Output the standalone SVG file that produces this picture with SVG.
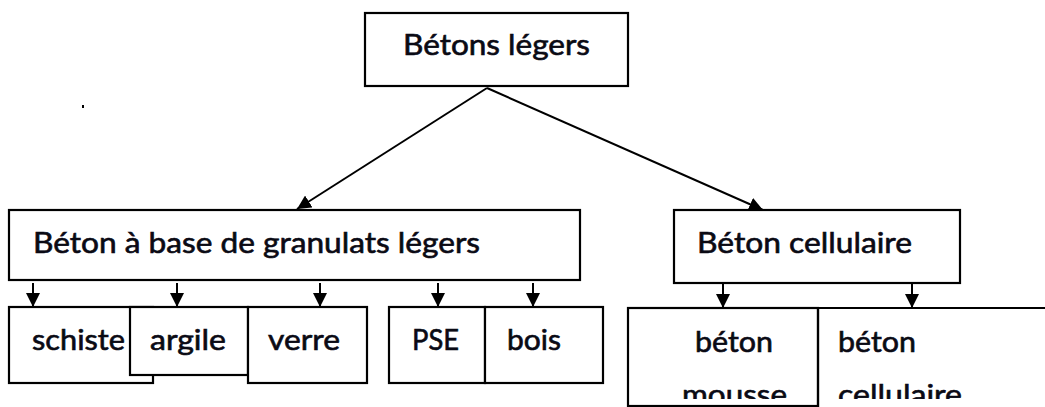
<svg xmlns="http://www.w3.org/2000/svg" width="1045" height="407" viewBox="0 0 1045 407">
<defs>
<style>
.box{fill:#fff;stroke:#000;stroke-width:2.2}
.ln{fill:none;stroke:#000;stroke-width:2.2}
.t{font-family:Lato,"Open Sans",sans-serif;font-size:28px;fill:#0a0a14;stroke:#0a0a14;stroke-width:0.6}
.edge{fill:none;stroke:#000;stroke-width:2}
</style>
<marker id="ah" viewBox="0 0 10 10" refX="10" refY="5" markerWidth="7" markerHeight="7" markerUnits="strokeWidth" orient="auto">
<path d="M0,0 L10,5 L0,10 z" fill="#000"/>
</marker>
<clipPath id="cl"><rect x="620" y="300" width="425" height="99"/></clipPath>
</defs>
<rect width="1045" height="407" fill="#fff"/>
<rect x="82" y="105" width="2" height="3" fill="#000"/>

<g id="n-top">
<rect class="box" x="365" y="13" width="263" height="73"/>
<text class="t" x="403" y="55" textLength="187" lengthAdjust="spacingAndGlyphs">Bétons légers</text>
</g>
<g id="n-granulats">
<rect class="box" x="9" y="210" width="571" height="70"/>
<text class="t" x="33" y="253" textLength="447" lengthAdjust="spacingAndGlyphs">Béton à base de granulats légers</text>
</g>
<g id="n-cellulaire">
<rect class="box" x="674" y="210" width="286" height="73"/>
<text class="t" x="697" y="253" textLength="215" lengthAdjust="spacingAndGlyphs">Béton cellulaire</text>
</g>
<g id="n-schiste">
<rect class="box" x="9" y="307" width="144" height="76"/>
<text class="t" x="32" y="350" textLength="93" lengthAdjust="spacingAndGlyphs">schiste</text>
</g>
<g id="n-argile">
<rect class="box" x="130" y="307" width="118" height="68"/>
<text class="t" x="150" y="350" textLength="76" lengthAdjust="spacingAndGlyphs">argile</text>
</g>
<g id="n-verre">
<rect class="box" x="248" y="307" width="119" height="76"/>
<text class="t" x="268" y="350" textLength="72" lengthAdjust="spacingAndGlyphs">verre</text>
</g>
<g id="n-pse">
<rect class="box" x="389" y="307" width="96" height="76"/>
<text class="t" x="412" y="350" textLength="47" lengthAdjust="spacingAndGlyphs">PSE</text>
</g>
<g id="n-bois">
<rect class="box" x="485" y="307" width="118" height="76"/>
<text class="t" x="507" y="350" textLength="54" lengthAdjust="spacingAndGlyphs">bois</text>
</g>
<g id="n-mousse">
<rect class="box" x="628" y="308" width="190" height="98"/>
<g clip-path="url(#cl)">
<text class="t" x="695" y="352" textLength="78" lengthAdjust="spacingAndGlyphs">béton</text>
<text class="t" x="682" y="405" textLength="105" lengthAdjust="spacingAndGlyphs">mousse</text>
</g>
</g>
<g id="n-cellulaire2">
<path class="ln" d="M818,308 H1045 M818,308 V407"/>
<g clip-path="url(#cl)">
<text class="t" x="838" y="352" textLength="78" lengthAdjust="spacingAndGlyphs">béton</text>
<text class="t" x="838" y="405" textLength="124" lengthAdjust="spacingAndGlyphs">cellulaire</text>
</g>
</g>

<g id="connectors">
<path class="edge" d="M487,88 L297,209" marker-end="url(#ah)"/>
<path class="edge" d="M487,88 L763,210" marker-end="url(#ah)"/>
<path class="edge" d="M33,283 V307" marker-end="url(#ah)"/>
<path class="edge" d="M177,283 V307" marker-end="url(#ah)"/>
<path class="edge" d="M320,283 V307" marker-end="url(#ah)"/>
<path class="edge" d="M438,283 V307" marker-end="url(#ah)"/>
<path class="edge" d="M533,283 V307" marker-end="url(#ah)"/>
<path class="edge" d="M723,284 V308" marker-end="url(#ah)"/>
<path class="edge" d="M912,284 V308" marker-end="url(#ah)"/>
</g>
</svg>
